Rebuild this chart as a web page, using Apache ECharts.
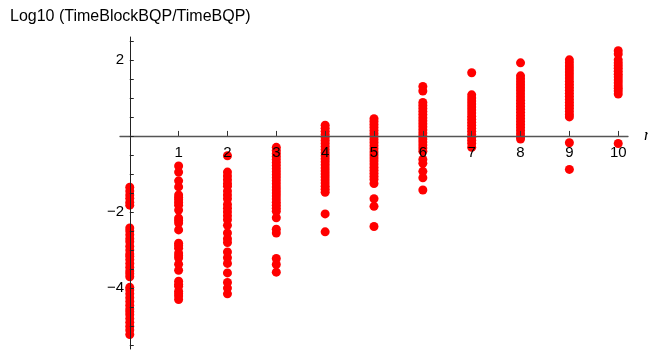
<!DOCTYPE html>
<html>
<head>
<meta charset="utf-8">
<script src="https://cdn.jsdelivr.net/npm/echarts@6/dist/echarts.min.js"></script>
<style>
  html, body { margin: 0; padding: 0; background: #fff; }
  #chart { width: 648px; height: 350px; }
</style>
</head>
<body>
<div id="chart"></div>
<script>
// n values on the x axis
const nValues = [0, 1, 2, 3, 4, 5, 6, 7, 8, 9, 10]

// log10 ratios per n
const ratioN0 = [-1.35, -1.45, -1.55, -1.64, -1.74, -1.82, -2.42, -2.5, -2.6, -2.7, -2.78, -2.9, -3.0, -3.1, -3.16, -3.25, -3.35, -3.45, -3.55, -3.62, -3.7, -3.98, -4.05, -4.15, -4.25, -4.35, -4.45, -4.55, -4.62, -4.7, -4.8, -4.9, -5.0, -5.1, -5.22]
const ratioN1 = [-0.79, -0.95, -1.18, -1.34, -1.55, -1.62, -1.68, -1.75, -1.82, -1.95, -2.16, -2.22, -2.29, -2.47, -2.82, -2.88, -2.95, -3.08, -3.15, -3.21, -3.37, -3.53, -3.82, -3.9, -3.95, -4.08, -4.15, -4.21, -4.3]
const ratioN2 = [-0.52, -0.95, -1.05, -1.15, -1.25, -1.32, -1.45, -1.55, -1.65, -1.8, -1.9, -2.0, -2.1, -2.2, -2.35, -2.55, -2.7, -2.8, -3.05, -3.2, -3.35, -3.6, -3.85, -4.0, -4.15]
const ratioN3 = [-0.3, -0.38, -0.46, -0.54, -0.62, -0.7, -0.78, -0.86, -0.94, -1.02, -1.1, -1.18, -1.26, -1.34, -1.42, -1.5, -1.58, -1.66, -1.74, -1.82, -1.9, -1.98, -2.15, -2.45, -2.55, -3.22, -3.38, -3.58]
const ratioN4 = [0.28, 0.2, 0.12, 0.04, -0.04, -0.12, -0.2, -0.28, -0.36, -0.44, -0.52, -0.6, -0.68, -0.76, -0.84, -0.92, -1.0, -1.08, -1.16, -1.24, -1.32, -1.4, -1.48, -2.05, -2.52]
const ratioN5 = [0.45, 0.38, 0.3, 0.22, 0.14, 0.06, -0.02, -0.1, -0.18, -0.26, -0.34, -0.42, -0.5, -0.58, -0.66, -0.74, -0.82, -0.9, -0.98, -1.06, -1.14, -1.25, -1.65, -1.85, -2.38]
const ratioN6 = [1.3, 1.18, 0.88, 0.8, 0.72, 0.64, 0.56, 0.48, 0.4, 0.32, 0.24, 0.16, 0.08, 0.0, -0.08, -0.16, -0.24, -0.32, -0.4, -0.62, -0.72, -0.93, -1.1, -1.42]
const ratioN7 = [1.66, 1.08, 1.0, 0.92, 0.84, 0.76, 0.68, 0.6, 0.52, 0.44, 0.36, 0.28, 0.2, 0.12, 0.04, -0.04, -0.12, -0.2, -0.3]
const ratioN8 = [1.92, 1.58, 1.5, 1.42, 1.34, 1.26, 1.18, 1.1, 1.02, 0.94, 0.86, 0.78, 0.7, 0.62, 0.54, 0.46, 0.38, 0.3, 0.22, 0.14, 0.06, -0.02, -0.08]
const ratioN9 = [2.0, 1.92, 1.84, 1.76, 1.68, 1.6, 1.52, 1.44, 1.36, 1.28, 1.2, 1.12, 1.04, 0.96, 0.88, 0.8, 0.72, 0.64, 0.56, 0.5, -0.18, -0.88]
const ratioN10 = [2.24, 2.15, 2.0, 1.92, 1.85, 1.78, 1.7, 1.62, 1.55, 1.47, 1.4, 1.32, 1.25, 1.18, 1.1, -0.2]

// tick labels
const xTickLabels = [1, 2, 3, 4, 5, 6, 7, 8, 9, 10]
const yTickLabels = [-4, -2, 2]
const yTicks = [-5.5, -5, -4.5, -4, -3.5, -3, -2.5, -2, -1.5, -1, -0.5, 0, 0.5, 1, 1.5, 2, 2.5]

const allRatios = [ratioN0, ratioN1, ratioN2, ratioN3, ratioN4, ratioN5, ratioN6, ratioN7, ratioN8, ratioN9, ratioN10]
const points = []
allRatios.forEach((list, i) => {
  list.forEach(v => points.push([nValues[i], v]))
})

const chart = echarts.init(document.getElementById('chart'))
chart.setOption({
  animation: false,
  title: {
    text: 'Log10 (TimeBlockBQP/TimeBQP)',
    left: 5,
    top: 4,
    textStyle: {
      fontFamily: 'Liberation Sans',
      fontSize: 16,
      fontWeight: 'normal',
      color: '#000'
    }
  },
  grid: {
    left: 120,
    top: 37,
    width: 508,
    height: 312,
    containLabel: false,
    outerBoundsMode: 'none'
  },
  xAxis: [
    {
      // the axis line itself, sitting on y = 0
      type: 'value',
      min: -0.2,
      max: 10.2,
      z: 5,
      name: 'n',
      nameLocation: 'end',
      nameGap: 16,
      nameTextStyle: {
        fontFamily: 'Liberation Serif',
        fontStyle: 'italic',
        fontSize: 17,
        color: '#000',
        verticalAlign: 'middle'
      },
      splitLine: { show: false },
      axisLine: { onZero: true, lineStyle: { color: '#555', width: 1.3 } },
      axisTick: { inside: true, length: 5, customValues: xTickLabels, lineStyle: { color: '#333' } },
      axisLabel: { show: false }
    },
    {
      // labels only, moved up to the zero line
      type: 'value',
      min: -0.2,
      max: 10.2,
      position: 'bottom',
      offset: -213,
      z: 5,
      splitLine: { show: false },
      axisLine: { show: false, onZero: false },
      axisTick: { show: false },
      axisLabel: {
        customValues: xTickLabels,
        margin: 9,
        fontFamily: 'Liberation Sans',
        fontSize: 15,
        color: '#000'
      }
    }
  ],
  yAxis: {
    type: 'value',
    min: -5.6,
    max: 2.6,
    z: 5,
    splitLine: { show: false },
    axisLine: { onZero: true, lineStyle: { color: '#222', width: 1 } },
    axisTick: { inside: true, length: 4, customValues: yTicks, lineStyle: { color: '#222' } },
    axisLabel: {
      customValues: yTickLabels,
      margin: -4,
      fontFamily: 'Liberation Sans',
      fontSize: 15,
      color: '#000',
      formatter: v => String(v).replace('-', '\u2212')
    }
  },
  series: [
    {
      type: 'scatter',
      xAxisIndex: 0,
      symbolSize: 9,
      itemStyle: { color: '#ff0000', opacity: 1 },
      data: points
    }
  ]
})
</script>
</body>
</html>
